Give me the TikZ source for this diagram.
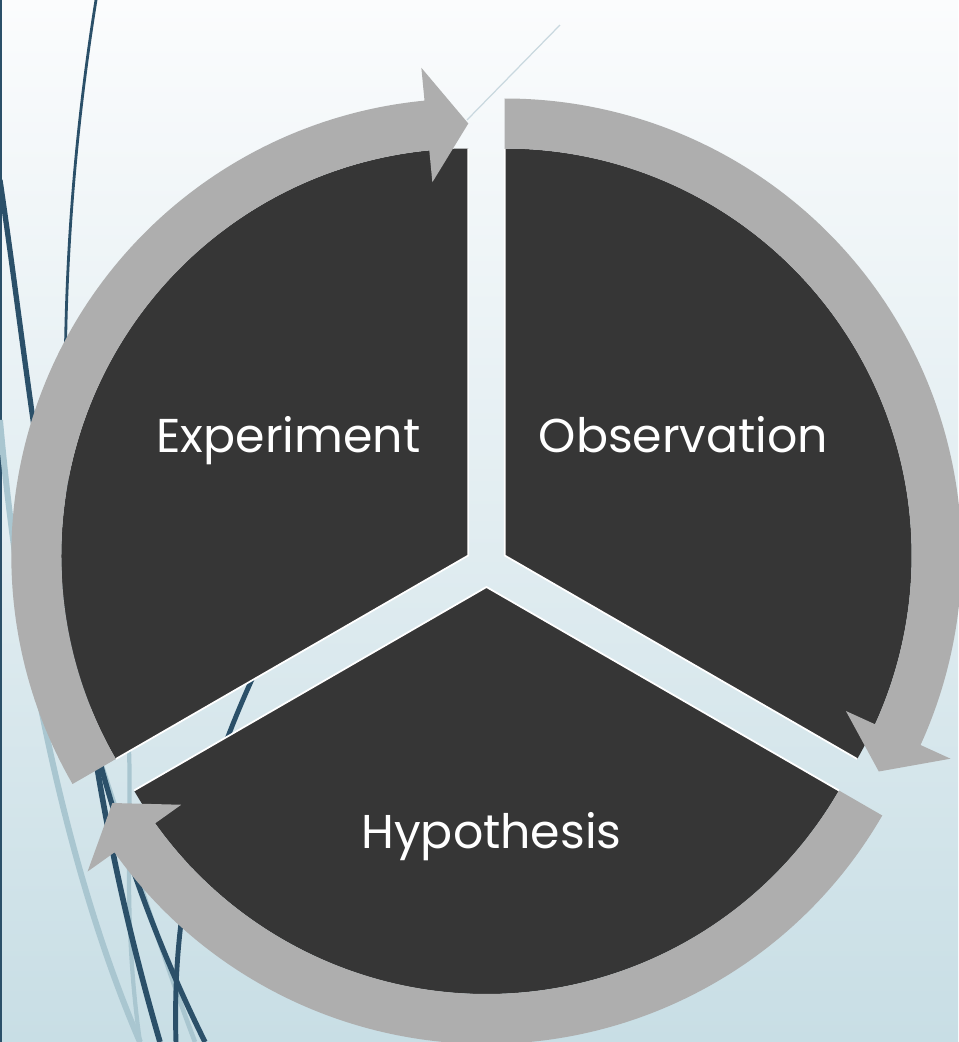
\documentclass[tikz,border=0pt]{standalone}
\usepackage{fontspec}
\setmainfont{Poppins}
\usepackage{tikz}
\definecolor{wispTop}{HTML}{FBFCFD}
\definecolor{wispBottom}{HTML}{C8DEE5}
\definecolor{wispNavy}{HTML}{2B5069}
\definecolor{wispLight}{HTML}{A9C6D0}
\definecolor{wispHair}{HTML}{C9D8DF}
\definecolor{segDark}{HTML}{363636}
\definecolor{ringGray}{HTML}{AEAEAE}

\begin{document}
\begin{tikzpicture}[x=0.02cm, y=0.02cm,
    segment/.style={fill=segDark},
    segedge/.style={draw=white, line width=1pt},
    ringarrow/.style={fill=ringGray},
    steptext/.style={anchor=base, text=white, font=\fontsize{27}{32}\selectfont}]
    \path[use as bounding box] (-486.5,-476) rectangle (471.5,566);
    \shade[top color=wispTop, bottom color=wispBottom] (-486.5,-476) rectangle (471.5,566);

    \begin{scope}[shift={(-486.5,566)}, yscale=-1]
      \draw[wispNavy, line width=1.2pt] (0.6,0) -- (0.6,1042);
      \draw[wispLight, line width=3.4pt] (0,420) .. controls (20,650) and (70,880) .. (140,1042);
      \draw[wispLight, line width=2.4pt] (127,720) .. controls (135,800) and (120,900) .. (140,1042);
      \draw[wispLight, line width=2.6pt] (100,760) .. controls (130,850) and (160,950) .. (195,1042);
      \draw[wispNavy, line width=1.6pt] (96,0) .. controls (40,350) and (60,700) .. (160,1042);
      \begin{scope}
        \clip (0,700) rectangle (300,1042);
        \draw[wispNavy, line width=3.2pt] (96,0) .. controls (40,350) and (60,700) .. (160,1042);
      \end{scope}
      \draw[wispNavy, line width=3pt] (0,180) .. controls (40,450) and (60,750) .. (205,1042);
      \draw[wispNavy, line width=2.8pt] (290,600) .. controls (230,720) and (170,850) .. (176,1042);
      \draw[wispHair, line width=0.7pt] (467,120) -- (560,25);
    \end{scope}

    \coordinate (obsC) at (30:21);
    \coordinate (expC) at (150:21);
    \coordinate (hypC) at (270:21);

    \fill[segment, shift={(obsC)}] (0,0) -- (90:407) arc[start angle=90, end angle=-30, radius=407] -- cycle;
    \fill[segment, shift={(expC)}] (0,0) -- (210:407) arc[start angle=210, end angle=90, radius=407] -- cycle;
    \fill[segment, shift={(hypC)}] (0,0) -- (-30:407) arc[start angle=-30, end angle=-150, radius=407] -- cycle;

    \draw[segedge, shift={(obsC)}] (90:407) -- (0,0) -- (-30:407);
    \draw[segedge, shift={(expC)}] (210:407) -- (0,0) -- (90:407);
    \draw[segedge, shift={(hypC)}] (-30:407) -- (0,0) -- (-150:407);

    \fill[ringarrow, shift={(obsC)}] (90:457) arc[start angle=90, end angle=-24.5, radius=457]
      -- (-24.5:490) -- (-30:432) -- (-24.5:375) -- (-24.5:407)
      arc[start angle=-24.5, end angle=90, radius=407] -- cycle;
    \fill[ringarrow, shift={(expC)}] (210:457) arc[start angle=210, end angle=95.5, radius=457]
      -- (95.5:490) -- (90:432) -- (95.5:375) -- (95.5:407)
      arc[start angle=95.5, end angle=210, radius=407] -- cycle;
    \fill[ringarrow, shift={(hypC)}] (-30:457) arc[start angle=-30, end angle=-144.5, radius=457]
      -- (-144.5:490) -- (-150:432) -- (-144.5:375) -- (-144.5:407)
      arc[start angle=-144.5, end angle=-30, radius=407] -- cycle;

    \node[steptext] (experiment) at (-198,114) {Experiment};
    \node[steptext] (observation) at (197,114) {Observation};
    \node[steptext] (hypothesis) at (5,-282) {Hypothesis};
  \end{tikzpicture}
\end{document}
